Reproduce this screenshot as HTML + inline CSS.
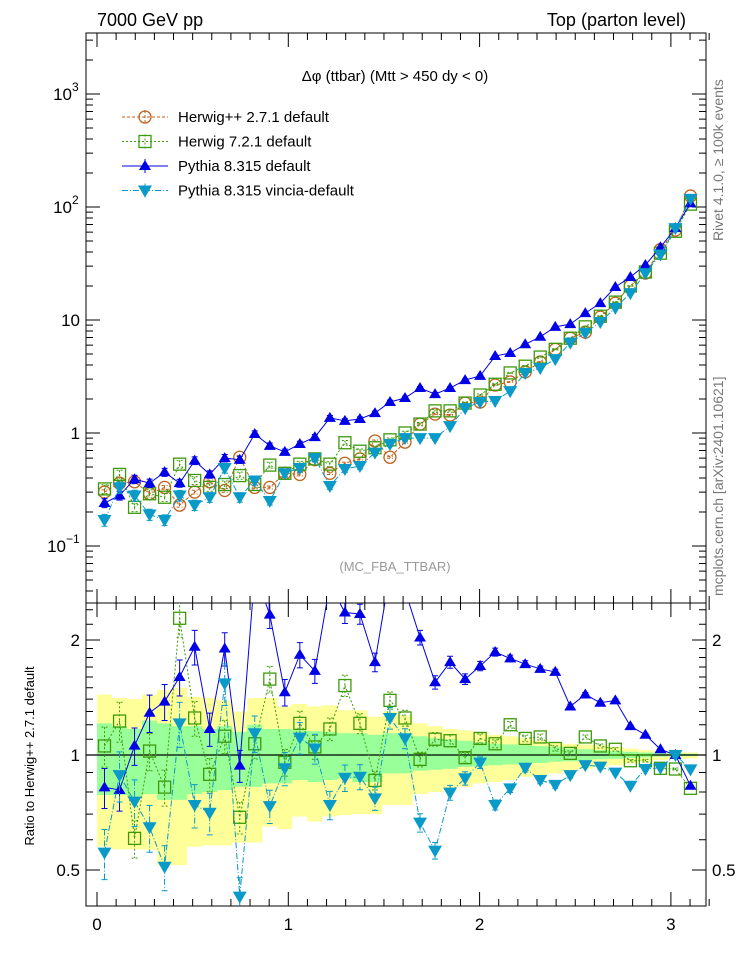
<!DOCTYPE html>
<html><head><meta charset="utf-8"><style>
body{margin:0;background:#fff;}
svg text{font-family:"Liberation Sans",sans-serif;}
</style></head><body>
<svg id="c" width="746" height="972" viewBox="0 0 746 972" xmlns="http://www.w3.org/2000/svg">
<defs>
<clipPath id="mainClip"><rect x="86" y="33" width="620" height="570"/></clipPath>
<clipPath id="ratioClip"><rect x="86" y="603" width="620" height="303"/></clipPath>
</defs>
<text x="97" y="26" font-size="18">7000 GeV pp</text>
<text x="686" y="26" font-size="18" text-anchor="end">Top (parton level)</text>
<text x="395" y="81" font-size="15" text-anchor="middle">Δφ (ttbar) (Mtt &gt; 450 dy &lt; 0)</text>
<text x="395" y="571" font-size="13" fill="#999" text-anchor="middle">(MC_FBA_TTBAR)</text>
<text transform="translate(723,241) rotate(-90)" font-size="14" fill="#777">Rivet 4.1.0, ≥ 100k events</text>
<text transform="translate(723,596) rotate(-90)" font-size="14" fill="#777">mcplots.cern.ch [arXiv:2401.10621]</text>
<text transform="translate(34,756) rotate(-90)" font-size="13" text-anchor="middle">Ratio to Herwig++ 2.7.1 default</text>
<g id="band"></g>
<g id="axes"></g>
<g id="series"></g>
<g id="legend"></g>
</svg>
<script>
const herwigpp=[0.30,0.36,0.37,0.29,0.33,0.23,0.30,0.37,0.31,0.61,0.33,0.33,0.44,0.43,0.58,0.44,0.54,0.59,0.85,0.61,0.83,1.2,1.47,1.44,1.84,1.88,2.66,2.83,3.47,4.25,5.5,6.9,7.8,10.6,14.1,20,26,42,62.5,125];
const herwig7=[0.32,0.43,0.22,0.29,0.27,0.53,0.38,0.33,0.35,0.42,0.35,0.52,0.44,0.53,0.59,0.53,0.82,0.69,0.74,0.87,1.0,1.2,1.57,1.57,1.84,2.17,2.7,3.4,3.9,4.7,5.5,6.9,8.7,10.8,14.4,20,26.6,39,61,106];
const pythia=[0.24,0.28,0.39,0.36,0.45,0.36,0.57,0.43,0.60,0.58,0.98,0.77,0.68,0.80,0.92,1.36,1.28,1.33,1.50,1.88,2.04,2.5,2.21,2.5,2.94,3.2,4.8,5.1,6.1,7.1,8.7,9.2,11.5,14.1,19.6,24,30.7,44,65,108];
const vincia=[0.17,0.33,0.28,0.19,0.17,0.28,0.23,0.27,0.49,0.27,0.38,0.25,0.44,0.49,0.60,0.34,0.48,0.51,0.67,0.80,0.90,0.90,0.90,1.15,1.66,1.88,1.92,2.35,3.4,3.76,4.5,6.3,7.7,9.6,12.8,17.3,26,38,65,118];
const ratioH7=[1.056,1.227,0.605,1.024,0.824,2.28,1.25,0.89,1.12,0.687,1.07,1.58,0.957,1.21,1.05,1.17,1.52,1.21,0.858,1.39,1.25,0.974,1.10,1.09,0.984,1.105,1.07,1.20,1.105,1.115,1.04,1.01,1.115,1.056,1.035,0.966,0.966,0.923,0.919,0.818];
const ratioPy=[0.823,0.81,1.058,1.29,1.38,1.60,1.92,1.17,1.90,0.938,3.0,2.33,1.46,1.83,1.66,2.8,2.36,2.34,1.75,3.0,2.7,2.03,1.55,1.75,1.58,1.71,1.86,1.79,1.73,1.68,1.65,1.34,1.44,1.37,1.39,1.19,1.13,1.035,1.0,0.831];
const ratioVi=[0.555,0.886,0.755,0.647,0.51,1.21,0.74,0.706,1.54,0.426,1.14,0.735,0.923,1.11,1.04,0.74,0.872,0.877,0.77,1.25,1.105,0.665,0.562,0.797,0.869,0.955,0.74,0.818,0.926,0.86,0.835,0.886,0.941,0.932,0.899,0.831,0.919,0.926,1.0,0.917];
const relErr=[0.3,0.3,0.28,0.28,0.27,0.27,0.26,0.25,0.25,0.24,0.22,0.2,0.2,0.19,0.18,0.17,0.16,0.15,0.14,0.13,0.12,0.11,0.1,0.09,0.08,0.07,0.06,0.05,0.05,0.045,0.04,0.035,0.03,0.03,0.025,0.02,0.02,0.015,0.015,0.01];
const yellowHi=[1.44,1.41,1.40,1.44,1.48,1.50,1.42,1.41,1.39,1.30,1.41,1.41,1.34,1.36,1.34,1.35,1.31,1.31,1.26,1.30,1.27,1.21,1.19,1.17,1.16,1.15,1.13,1.12,1.105,1.09,1.08,1.07,1.065,1.06,1.05,1.04,1.03,1.025,1.02,1.015];
const yellowLo=[0.575,0.566,0.566,0.565,0.515,0.515,0.575,0.58,0.58,0.59,0.59,0.65,0.64,0.69,0.67,0.69,0.696,0.70,0.70,0.74,0.74,0.79,0.80,0.818,0.826,0.843,0.85,0.86,0.877,0.886,0.895,0.91,0.92,0.93,0.94,0.95,0.96,0.97,0.975,0.98];
const greenHi=[1.21,1.19,1.17,1.23,1.21,1.19,1.19,1.17,1.19,1.15,1.20,1.17,1.17,1.16,1.155,1.15,1.14,1.14,1.13,1.14,1.14,1.12,1.105,1.10,1.09,1.08,1.07,1.065,1.06,1.055,1.05,1.04,1.035,1.03,1.025,1.02,1.015,1.012,1.01,1.008];
const greenLo=[0.786,0.786,0.778,0.79,0.763,0.763,0.79,0.80,0.81,0.826,0.826,0.843,0.843,0.86,0.85,0.86,0.868,0.85,0.85,0.895,0.895,0.91,0.915,0.92,0.93,0.935,0.94,0.945,0.95,0.953,0.96,0.963,0.97,0.975,0.978,0.982,0.986,0.99,0.992,0.994];
const xTicks=[0,1,2,3];
const mainTicks=[["10","3"],["10","2"],["10",""],["1",""],["10","−1"]];
const ratioTicks=["2","1","0.5"];

const NS="http://www.w3.org/2000/svg";
const N=40, BW=Math.PI/N;
const X=v=>97+191.3*v;
const Y=v=>433-113*Math.log10(v);
const R=v=>755-382*Math.log10(v);
function mk(tag,attrs,parent){const e=document.createElementNS(NS,tag);for(const k in attrs)e.setAttribute(k,attrs[k]);parent.appendChild(e);return e;}
const gB=document.getElementById('band'),gA=document.getElementById('axes'),gS=document.getElementById('series'),gL=document.getElementById('legend');

function bandPath(hi,lo){let d='';for(let i=0;i<N;i++){const x0=X(i*BW),x1=X((i+1)*BW);d+=`M${x0},${R(hi[i])}H${x1}V${R(lo[i])}H${x0}Z`;}return d;}
const yb=mk('path',{d:bandPath(yellowHi,yellowLo),fill:'#ffff99'},gB);


const gb=mk('path',{d:bandPath(greenHi,greenLo),fill:'#99ff99'},gB);


const ref=mk('line',{x1:86,x2:706,y1:R(1),y2:R(1),stroke:'#000','stroke-width':1.2},gB);



const f1=mk('rect',{x:86,y:33,width:620,height:570,fill:'none',stroke:'#000','stroke-width':1},gA);


const f2=mk('rect',{x:86,y:603,width:620,height:303,fill:'none',stroke:'#000','stroke-width':1},gA);


let td='';
for(let e=-2;e<=3;e++)for(let m=1;m<10;m++){const y=Y(m*Math.pow(10,e));if(y<33||y>603)continue;const L=m==1?14:7;td+=`M86,${y}h${L}M706,${y}h-${L}`;}
for(const v of [0.4,0.5,0.6,0.7,0.8,0.9,1,1.1,1.2,1.3,1.4,1.5,1.6,1.7,1.8,1.9,2,2.2,2.4]){const y=R(v);if(y<603||y>906)continue;const L=(v==0.5||v==1||v==2)?14:7;td+=`M86,${y}h${L}M706,${y}h-${L}`;}
for(let k=0;k<=32;k++){const v=k*0.1;const x=X(v);const L=(k%10==0)?14:7;td+=`M${x},906v-${L}M${x},603v-${L}M${x},603v${L}M${x},33v${L}`;}
const tk=mk('path',{d:td,stroke:'#000','stroke-width':1,fill:'none'},gA);


xTicks.forEach(v=>{const t=mk('text',{x:X(v),y:930,'font-size':17,'text-anchor':'middle'},gA);t.textContent=v;

});
const mainVals=[1000,100,10,1,0.1];
mainTicks.forEach((p,i)=>{const t=mk('text',{x:p[1]?78-(p[1].length*6):80,y:Y(mainVals[i])+6,'font-size':17,'text-anchor':'end'},gA);t.textContent=p[0];


if(p[1]){const s=mk('text',{x:t.getAttribute('x'),y:Y(mainVals[i])-3,'font-size':12},gA);s.textContent=p[1];

}});
ratioTicks.forEach(s=>{const v=parseFloat(s);[80,712].forEach(x=>{const t=mk('text',{x:x,y:R(v)+6,'font-size':17,'text-anchor':x<100?'end':'start'},gA);t.textContent=s;

});});

function marker(type,x,y,col,par){
 if(type=='circle')return mk('circle',{cx:x,cy:y,r:6,fill:'none',stroke:col,'stroke-width':1.3},par);
 if(type=='square')return mk('rect',{x:x-6,y:y-6,width:12,height:12,fill:'none',stroke:col,'stroke-width':1.3},par);
 if(type=='up')return mk('path',{d:`M${x},${y-6}L${x+6},${y+4}L${x-6},${y+4}Z`,fill:col},par);
 return mk('path',{d:`M${x},${y+7}L${x+7},${y-5}L${x-7},${y-5}Z`,fill:col},par);
}
function drawSeries(vals,Ymap,clip,col,dash,type,name,errScale){
 const g=mk('g',{'clip-path':`url(#${clip})`},gS);
 
 
 let d='';vals.forEach((v,i)=>{d+=(i?'L':'M')+X((i+0.5)*BW)+','+Ymap(v);});
 const ln=mk('path',{d:d,fill:'none',stroke:col,'stroke-width':1,'stroke-dasharray':dash},g);
 
 
 vals.forEach((v,i)=>{const x=X((i+0.5)*BW);const e=relErr[i]*errScale;
  const eb=mk('path',{d:`M${x},${Ymap(v*(1+e))}V${Ymap(Math.max(v*(1-e),1e-3))}M${x-3},${Ymap(v*(1+e))}h6M${x-3},${Ymap(Math.max(v*(1-e),1e-3))}h6`,stroke:col,'stroke-width':1,'stroke-dasharray':dash,fill:'none'},g);
  
  
  const m=marker(type,x,Ymap(v),col,g);
  
  });
}
const cols={hpp:'#c0601a',h7:'#3c9a0a',py:'#0000e6',vi:'#0a9ac8'};
drawSeries(herwigpp,Y,'mainClip',cols.hpp,'3,2','circle','herwigpp-series',0.15);
drawSeries(herwig7,Y,'mainClip',cols.h7,'2,2','square','herwig7-series',0.3);
drawSeries(pythia,Y,'mainClip',cols.py,'','up','pythia-series',0.3);
drawSeries(vincia,Y,'mainClip',cols.vi,'6,2,1,2','down','vincia-series',0.4);
drawSeries(ratioH7,R,'ratioClip',cols.h7,'2,2','square','herwig7-ratio',0.4);
drawSeries(ratioPy,R,'ratioClip',cols.py,'','up','pythia-ratio',0.4);
drawSeries(ratioVi,R,'ratioClip',cols.vi,'6,2,1,2','down','vincia-ratio',0.5);

const leg=[['Herwig++ 2.7.1 default',cols.hpp,'3,2','circle'],['Herwig 7.2.1 default',cols.h7,'2,2','square'],['Pythia 8.315 default',cols.py,'','up'],['Pythia 8.315 vincia-default',cols.vi,'6,2,1,2','down']];
leg.forEach((l,i)=>{const y=117+24.5*i;const g=mk('g',{},gL);
 
 
 mk('line',{x1:122,x2:168,y1:y,y2:y,stroke:l[1],'stroke-dasharray':l[2]},g);
 mk('line',{x1:145,x2:145,y1:y-7,y2:y+7,stroke:l[1],'stroke-dasharray':l[2]},g);
 marker(l[3],145,y,l[1],g);
 const t=mk('text',{x:178,y:y+5,'font-size':15},g);t.textContent=l[0];});
</script>
</body></html>
